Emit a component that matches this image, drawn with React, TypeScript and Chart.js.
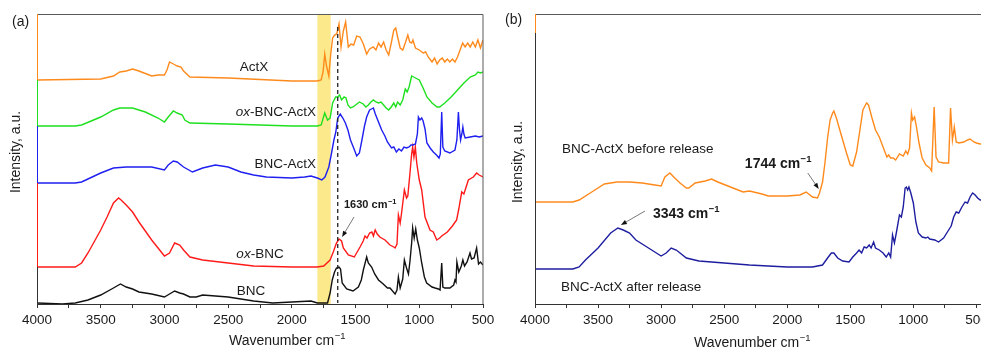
import { useEffect, useRef } from "react";
import { Chart, registerables } from "chart.js";
Chart.register(...registerables);

const FONT = '"Liberation Sans", Arial, Helvetica, sans-serif';

// ---------- Panel (a) data : wavenumber (cm-1) / intensity (a.u., offset traces) ----------
const actxWn = [4000,3500,3400,3350,3300,3250,3200,3100,3050,3000,2980,2960,2930,2900,2870,2850,2800,2500,2000,1800,1770,1755,1742,1728,1710,1695,1680,1665,1648,1630,1614,1596,1578,1557,1536,1515,1491,1465,1439,1413,1390,1361,1340,1320,1300,1280,1260,1240,1220,1200,1185,1170,1150,1130,1110,1090,1075,1060,1050,1030,1000,970,950,930,900,880,860,840,820,800,780,760,740,720,700,680,660,640,620,600,580,560,540,520,500];
const actxInt = [224,225,228,232,233,235,233,228,229,229,234,242,240,238,237,233,227,226,223,223,224,232,250,238,228,250,266,269,270,280,257,273,282,257,260,259,268,267,260,250,255,257,254,261,257,262,254,249,261,274,276,267,256,254,261,269,262,261,264,256,254,251,252,247,242,246,240,244,246,242,245,242,245,242,247,254,261,257,261,257,262,257,264,256,264];

const oxBncActxWn = [4000,3700,3650,3500,3400,3350,3250,3150,3050,3000,2970,2930,2900,2860,2840,2800,2500,2000,1800,1770,1742,1720,1700,1680,1656,1640,1625,1610,1590,1575,1560,1540,1520,1500,1470,1440,1420,1400,1380,1360,1340,1320,1300,1280,1260,1240,1220,1200,1185,1170,1150,1130,1110,1095,1080,1060,1045,1030,1000,970,940,900,860,840,800,750,700,650,600,560,540,520,500];
const oxBncActxInt = [178,178,179,187,194,196,196,192,186,182,187,193,191,189,184,181,180,178,178,179,191,184,186,201,207,207,209,204,207,206,199,196,197,199,202,200,197,199,202,204,202,201,202,199,196,194,197,201,197,202,199,204,215,212,217,228,227,226,224,216,207,201,197,197,201,207,214,221,227,229,232,231,232];

const bncActxWn = [4000,3700,3650,3500,3400,3300,3100,3000,2970,2930,2900,2850,2780,2700,2600,2500,2400,2300,2200,2000,1900,1850,1800,1765,1740,1710,1690,1670,1655,1640,1620,1600,1580,1560,1540,1515,1491,1470,1450,1430,1413,1390,1375,1360,1345,1320,1295,1270,1250,1218,1200,1180,1160,1140,1120,1100,1080,1065,1049,1030,1015,1007,995,981,970,955,940,915,890,865,845,835,824,815,800,760,720,705,693,685,676,666,658,650,640,600,560,530,500];
const bncActxInt = [121,121,122,131,136,137,137,134,139,143,142,137,132,136,139,137,132,129,127,126,127,128,126,124,127,137,150,164,172,186,190,186,181,174,164,156,148,151,164,178,187,194,195,196,190,182,174,168,162,156,157,152,155,153,157,156,157,159,159,160,170,187,184,186,183,175,161,156,152,149,146,150,192,157,153,151,154,164,192,175,164,170,177,170,166,167,168,167,168];

const oxBncWn = [4000,3700,3650,3600,3500,3450,3400,3360,3340,3300,3250,3200,3100,3000,2960,2920,2880,2850,2800,2700,2500,2300,2000,1800,1750,1700,1675,1650,1630,1610,1596,1557,1510,1465,1440,1426,1410,1390,1372,1360,1346,1330,1310,1269,1230,1200,1190,1175,1164,1150,1140,1117,1100,1090,1073,1060,1052,1042,1031,1020,1000,981,955,916,890,863,840,824,780,740,707,690,667,650,615,576,550,530,500];
const oxBncInt = [37,37,41,51,74,87,101,106,104,99,92,82,64,48,51,61,59,54,47,44,41,38,37,37,38,44,52,61,65,63,56,49,47,57,63,68,66,71,72,68,74,70,67,64,59,57,56,60,89,81,90,114,106,108,131,150,157,147,157,141,124,114,87,74,72,64,66,68,72,78,84,95,112,110,124,127,131,129,127];

const bncWn = [4000,3800,3700,3600,3500,3400,3345,3300,3250,3200,3100,3000,2960,2920,2880,2850,2800,2750,2700,2600,2500,2300,2150,2000,1850,1800,1720,1700,1683,1665,1650,1630,1618,1605,1570,1520,1478,1455,1439,1413,1400,1374,1350,1320,1283,1250,1230,1190,1175,1164,1150,1130,1117,1100,1085,1073,1060,1052,1040,1028,1015,1000,981,960,942,900,876,850,837,824,815,800,760,730,720,712,705,690,670,658,645,625,602,590,570,550,535,520,500];
const bncInt = [1,0,1,4,9,16,20,17,15,12,10,7,10,13,11,10,7,7,9,8,7,3,1,2,3,1,1,11,24,32,36,37,35,21,15,13,17,24,34,47,41,37,30,24,20,16,16,10,14,27,16,25,44,36,30,43,61,76,66,75,64,56,41,27,21,17,16,15,14,41,17,16,16,19,24,22,42,32,38,44,38,42,51,45,46,56,40,42,39];

// ---------- Panel (b) data ----------
const beforeWn = [4000,3700,3650,3550,3450,3350,3250,3150,3050,3000,2970,2930,2900,2850,2800,2780,2730,2650,2600,2550,2450,2350,2300,2200,2150,2000,1900,1850,1800,1760,1744,1720,1700,1680,1660,1640,1630,1610,1590,1560,1530,1500,1480,1450,1420,1400,1380,1370,1355,1330,1300,1270,1240,1210,1195,1180,1160,1140,1110,1080,1060,1045,1030,1015,1005,990,975,955,930,900,870,855,835,820,800,760,720,705,690,675,660,640,600,570,550,520,500,470,460];
const beforeInt = [102,102,104,112,120,122,122,121,119,118,127,131,127,121,116,116,121,123,125,122,117,112,113,110,108,108,109,112,107,106,111,122,142,166,184,191,193,186,177,164,151,139,138,152,177,194,199,201,199,187,174,167,157,147,149,146,146,144,150,148,153,150,156,191,184,187,177,161,146,139,136,133,197,147,142,141,141,196,164,177,162,161,162,164,165,162,161,160,160];

const afterWn = [4000,3700,3650,3600,3500,3400,3343,3300,3250,3200,3100,3000,2960,2920,2880,2850,2800,2700,2500,2300,2000,1800,1720,1680,1650,1630,1600,1560,1510,1480,1450,1430,1410,1390,1370,1350,1335,1315,1300,1270,1240,1215,1195,1180,1165,1150,1135,1110,1095,1080,1065,1055,1045,1035,1020,1000,980,960,930,900,885,870,830,800,760,720,700,680,660,640,615,590,570,550,530,510,490,470,460];
const afterInt = [35,35,37,44,56,71,76,74,71,64,56,48,51,56,54,51,46,43,41,39,37,37,39,46,51,51,46,43,42,47,51,54,51,57,56,59,56,62,56,54,51,47,51,47,69,61,71,89,87,97,116,117,114,117,111,101,82,71,67,66,67,65,64,62,66,74,78,87,92,91,97,102,101,107,111,109,106,104,104];

// tick positions (labels shown at multiples of 500)
const xTicksA = [4000,3750,3500,3250,3000,2750,2500,2250,2000,1750,1500,1250,1000,750,500];
const xTicksB = [4000,3750,3500,3250,3000,2750,2500,2250,2000,1750,1500,1250,1000,750,500];

const COLORS = {
  actx: "#ff8a1c",
  oxBncActx: "#1fe01f",
  bncActx: "#1f1ff0",
  oxBnc: "#ff1a1a",
  bnc: "#111111",
  before: "#ff8a1c",
  after: "#1e1ea0",
};

const pts = (wn: number[], v: number[]) => wn.map((x, i) => ({ x, y: v[i] }));

function drawSup(ctx: CanvasRenderingContext2D, x: number, yMid: number, base: string, sup: string, size: number, weight: string, align: string) {
  const bf = `${weight} ${size}px ${FONT}`;
  const sf = `${weight} ${size * 0.68}px ${FONT}`;
  ctx.font = bf;
  const wb = ctx.measureText(base).width;
  ctx.font = sf;
  const ws = ctx.measureText(sup).width;
  const tot = wb + ws;
  const x0 = align === "center" ? x - tot / 2 : align === "right" ? x - tot : x;
  const yb = yMid + size * 0.36;
  ctx.textAlign = "left";
  ctx.textBaseline = "alphabetic";
  ctx.font = bf;
  ctx.fillText(base, x0, yb);
  ctx.font = sf;
  ctx.fillText(sup, x0 + wb + 0.5, yb - size * 0.4);
}

function arrow(ctx: CanvasRenderingContext2D, x1: number, y1: number, x2: number, y2: number) {
  const ang = Math.atan2(y2 - y1, x2 - x1);
  const L = 6, W = 2.3;
  ctx.save();
  ctx.strokeStyle = "#555";
  ctx.lineWidth = 0.8;
  ctx.beginPath();
  ctx.moveTo(x1, y1);
  ctx.lineTo(x2 - Math.cos(ang) * L * 0.8, y2 - Math.sin(ang) * L * 0.8);
  ctx.stroke();
  ctx.fillStyle = "#111";
  ctx.beginPath();
  ctx.moveTo(x2, y2);
  ctx.lineTo(x2 - Math.cos(ang) * L - Math.sin(ang) * W, y2 - Math.sin(ang) * L + Math.cos(ang) * W);
  ctx.lineTo(x2 - Math.cos(ang) * L + Math.sin(ang) * W, y2 - Math.sin(ang) * L - Math.cos(ang) * W);
  ctx.closePath();
  ctx.fill();
  ctx.restore();
}

function yTitle(ctx: CanvasRenderingContext2D, x: number, y: number) {
  ctx.save();
  ctx.translate(x, y);
  ctx.rotate(-Math.PI / 2);
  ctx.font = `14px ${FONT}`;
  ctx.fillStyle = "#1a1a1a";
  ctx.textAlign = "center";
  ctx.textBaseline = "middle";
  ctx.fillText("Intensity, a.u.", 0, 0);
  ctx.restore();
}

function baseOptions(xMin: number, ticks: number[], padRight: number, padLeft: number) {
  return {
    responsive: false,
    maintainAspectRatio: false,
    animation: false as const,
    layout: { padding: { left: padLeft, right: padRight, top: 14, bottom: 0 } },
    plugins: { legend: { display: false }, tooltip: { enabled: false } },
    elements: { point: { radius: 0 }, line: { borderWidth: 1.4, tension: 0 } },
    scales: {
      x: {
        type: "linear" as const,
        reverse: true,
        min: xMin,
        max: 4000,
        afterBuildTicks: (axis: any) => {
          axis.ticks = ticks.map((v) => ({ value: v }));
        },
        afterFit: (scale: any) => {
          scale.height = 43;
        },
        ticks: {
          autoSkip: false,
          maxRotation: 0,
          padding: 4,
          color: "#1a1a1a",
          font: { family: FONT, size: 13.5 },
          callback: (v: any) => (Number(v) % 500 === 0 ? String(v) : ""),
        },
        grid: { drawOnChartArea: false, drawTicks: true, tickLength: 4, color: "#333" },
        border: { display: true, color: "#333", width: 1 },
      },
      y: { display: false, min: 0, max: 290 },
    },
  };
}

const panelAPlugin = {
  id: "panelA",
  beforeDatasetsDraw(chart: any) {
    const { ctx, chartArea: a, scales } = chart;
    const x1 = scales.x.getPixelForValue(1800);
    const x2 = scales.x.getPixelForValue(1695);
    ctx.save();
    ctx.fillStyle = "#fce98c";
    ctx.fillRect(x1, a.top, x2 - x1, a.bottom - a.top);
    ctx.restore();
  },
  afterDatasetsDraw(chart: any) {
    const { ctx, chartArea: a, scales } = chart;
    const X = (v: number) => scales.x.getPixelForValue(v);
    const Y = (v: number) => scales.y.getPixelForValue(v);
    ctx.save();
    // dashed marker
    ctx.strokeStyle = "#222";
    ctx.lineWidth = 1.3;
    ctx.setLineDash([4, 3]);
    ctx.beginPath();
    ctx.moveTo(X(1640), Y(277));
    ctx.lineTo(X(1640), Y(1));
    ctx.stroke();
    ctx.setLineDash([]);
    // frame
    ctx.strokeStyle = "#5a5a5a";
    ctx.lineWidth = 1;
    ctx.beginPath();
    ctx.moveTo(a.left, a.top + 0.5);
    ctx.lineTo(a.right, a.top + 0.5);
    ctx.lineTo(a.right, a.bottom);
    ctx.stroke();
    const segs = [
      [a.top, Y(actxInt[0]), COLORS.actx],
      [Y(actxInt[0]), Y(oxBncActxInt[0]), COLORS.oxBncActx],
      [Y(oxBncActxInt[0]), Y(bncActxInt[0]), COLORS.bncActx],
      [Y(bncActxInt[0]), Y(oxBncInt[0]), COLORS.oxBnc],
      [Y(oxBncInt[0]), a.bottom, "#333"],
    ] as [number, number, string][];
    segs.forEach(([t, b, c]) => {
      ctx.strokeStyle = c;
      ctx.beginPath();
      ctx.moveTo(a.left + 0.5, t);
      ctx.lineTo(a.left + 0.5, b);
      ctx.stroke();
    });
    // labels
    ctx.fillStyle = "#1a1a1a";
    ctx.textBaseline = "middle";
    ctx.font = `13.5px ${FONT}`;
    ctx.textAlign = "center";
    ctx.fillText("ActX", X(2297), Y(237));
    ctx.fillText("BNC", X(2320), Y(13));
    ctx.textAlign = "right";
    ctx.fillText("BNC-ActX", X(1810), Y(140));
    // ox-BNC-ActX (right aligned, italic prefix)
    const part = (xr: number, yv: number, rest: string, align: string) => {
      ctx.font = `italic 13.5px ${FONT}`;
      const wi = ctx.measureText("ox").width;
      ctx.font = `13.5px ${FONT}`;
      const wr = ctx.measureText(rest).width;
      const x0 = align === "right" ? xr - wi - wr : xr - (wi + wr) / 2;
      ctx.textAlign = "left";
      ctx.font = `italic 13.5px ${FONT}`;
      ctx.fillText("ox", x0, yv);
      ctx.font = `13.5px ${FONT}`;
      ctx.fillText(rest, x0 + wi, yv);
    };
    part(X(1810), Y(192), "-BNC-ActX", "right");
    part(X(2250), Y(50), "-BNC", "center");
    drawSup(ctx, X(1387), Y(100), "1630 cm", "\u22121", 11, "bold", "center");
    arrow(ctx, X(1512), Y(87), X(1606), Y(67));
    ctx.restore();
  },
  afterDraw(chart: any) {
    const { ctx } = chart;
    ctx.save();
    yTitle(ctx, 16, 152);
    ctx.fillStyle = "#1a1a1a";
    ctx.font = `14px ${FONT}`;
    ctx.textAlign = "left";
    ctx.textBaseline = "middle";
    ctx.fillText("(a)", 12, 22);
    drawSup(ctx, 287, 340, "Wavenumber cm", "\u22121", 14, "normal", "center");
    ctx.restore();
  },
};

const panelBPlugin = {
  id: "panelB",
  afterDatasetsDraw(chart: any) {
    const { ctx, chartArea: a, scales } = chart;
    const X = (v: number) => scales.x.getPixelForValue(v);
    const Y = (v: number) => scales.y.getPixelForValue(v);
    ctx.save();
    ctx.strokeStyle = "#5a5a5a";
    ctx.lineWidth = 1;
    ctx.beginPath();
    ctx.moveTo(a.left, a.top + 0.5);
    ctx.lineTo(chart.width, a.top + 0.5);
    ctx.stroke();
    ctx.strokeStyle = "#333";
    ctx.beginPath();
    ctx.moveTo(a.left + 0.5, a.top);
    ctx.lineTo(a.left + 0.5, a.bottom);
    ctx.stroke();
    ctx.strokeStyle = COLORS.before;
    ctx.beginPath();
    ctx.moveTo(a.left + 0.5, a.top);
    ctx.lineTo(a.left + 0.5, a.top + 19);
    ctx.stroke();
    ctx.fillStyle = "#1a1a1a";
    ctx.textBaseline = "middle";
    ctx.textAlign = "left";
    ctx.font = `13.5px ${FONT}`;
    ctx.fillText("BNC-ActX before release", X(3786), Y(155));
    ctx.fillText("BNC-ActX after release", X(3794), Y(17));
    drawSup(ctx, X(2336), Y(141), "1744 cm", "\u22121", 14, "bold", "left");
    drawSup(ctx, X(3065), Y(91), "3343 cm", "\u22121", 14, "bold", "left");
    arrow(ctx, X(1837), Y(131), X(1750), Y(115));
    arrow(ctx, X(3128), Y(93), X(3319), Y(79));
    ctx.restore();
  },
  afterDraw(chart: any) {
    const { ctx } = chart;
    ctx.save();
    yTitle(ctx, 23, 162);
    ctx.fillStyle = "#1a1a1a";
    ctx.font = `14px ${FONT}`;
    ctx.textAlign = "left";
    ctx.textBaseline = "middle";
    ctx.fillText("(b)", 10, 20);
    drawSup(ctx, 257, 342, "Wavenumber cm", "\u22121", 14, "normal", "center");
    ctx.restore();
  },
};

function ds(label: string, wn: number[], v: number[], color: string) {
  return { label, data: pts(wn, v), borderColor: color, backgroundColor: color, fill: false };
}

export default function App() {
  const refA = useRef<HTMLCanvasElement>(null);
  const refB = useRef<HTMLCanvasElement>(null);

  useEffect(() => {
    const chartA = new Chart(refA.current as HTMLCanvasElement, {
      type: "line",
      data: {
        datasets: [
          ds("ActX", actxWn, actxInt, COLORS.actx),
          ds("ox-BNC-ActX", oxBncActxWn, oxBncActxInt, COLORS.oxBncActx),
          ds("BNC-ActX", bncActxWn, bncActxInt, COLORS.bncActx),
          ds("ox-BNC", oxBncWn, oxBncInt, COLORS.oxBnc),
          ds("BNC", bncWn, bncInt, COLORS.bnc),
        ],
      },
      options: baseOptions(500, xTicksA, 17, 37) as any,
      plugins: [panelAPlugin],
    });
    const chartB = new Chart(refB.current as HTMLCanvasElement, {
      type: "line",
      data: {
        datasets: [
          ds("BNC-ActX before release", beforeWn, beforeInt, COLORS.before),
          ds("BNC-ActX after release", afterWn, afterInt, COLORS.after),
        ],
      },
      options: baseOptions(400, xTicksB, 26, 40) as any,
      plugins: [panelBPlugin],
    });
    return () => {
      chartA.destroy();
      chartB.destroy();
    };
  }, []);

  return (
    <div style={{ position: "fixed", left: 0, top: 0, width: 981, height: 347, overflow: "hidden", background: "#fff" }}>
      <canvas ref={refA} width={500} height={347} style={{ position: "absolute", left: 0, top: 0, width: 500, height: 347 }} />
      <canvas ref={refB} width={520} height={347} style={{ position: "absolute", left: 495, top: 0, width: 520, height: 347 }} />
    </div>
  );
}
